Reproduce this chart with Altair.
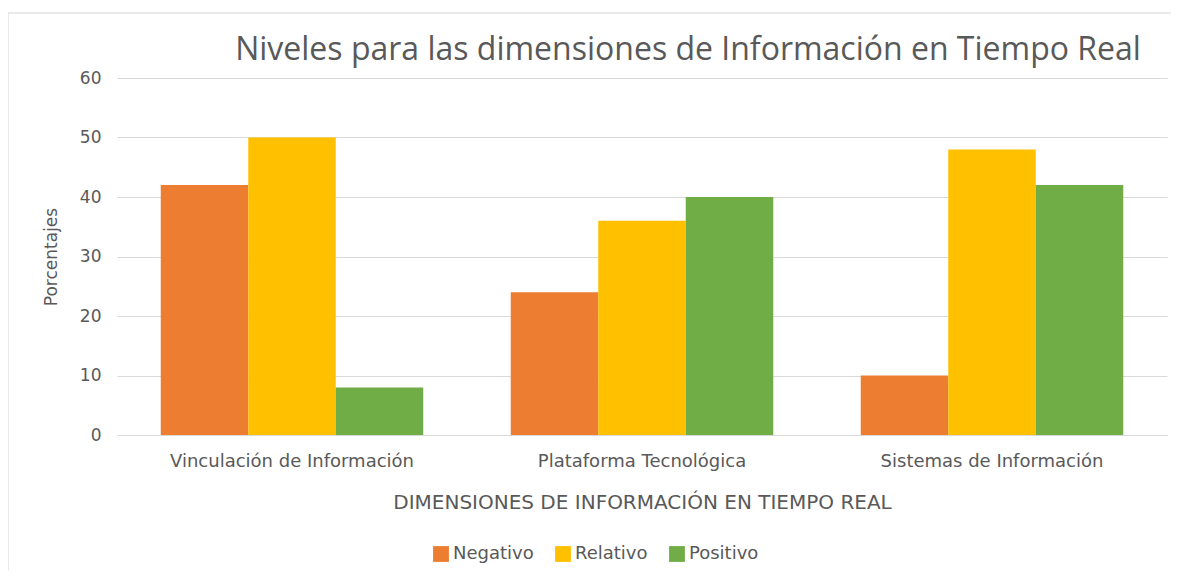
import altair as alt
import pandas as pd

categories = ["Vinculación de Información", "Plataforma Tecnológica", "Sistemas de Información"]
series = ["Negativo", "Relativo", "Positivo"]
negativo = [42, 24, 10]
relativo = [50, 36, 48]
positivo = [8, 40, 42]
colors = ["#ED7D31", "#FFC000", "#70AD47"]
title_text = "Niveles para las dimensiones de Información en Tiempo Real"

rows = []
for i, c in enumerate(categories):
    for s, vals in zip(series, [negativo, relativo, positivo]):
        rows.append({"cat": c, "serie": s, "val": vals[i]})
df = pd.DataFrame(rows)

FONT = "Open Sans"
LFONT = "DejaVu Sans"
GREY = "#595959"

bars = alt.Chart(df).mark_bar().encode(
    x=alt.X("cat:N", sort=categories,
            title="DIMENSIONES DE INFORMACIÓN EN TIEMPO REAL",
            scale=alt.Scale(paddingInner=0.25, paddingOuter=0.125),
            axis=alt.Axis(labelAngle=0, ticks=False, domain=True, domainColor="#D9D9D9",
                          labelFontSize=18, labelColor=GREY, labelFont=LFONT, labelPadding=17,
                          labelLimit=0,
                          titleFontSize=20, titleColor=GREY, titleFont=LFONT, titleFontWeight="normal",
                          titlePadding=22)),
    xOffset=alt.XOffset("serie:N", sort=series),
    y=alt.Y("val:Q", title="Porcentajes",
            scale=alt.Scale(domain=[0, 60]),
            axis=alt.Axis(values=[0, 10, 20, 30, 40, 50, 60], ticks=False, domain=False,
                          gridColor="#D9D9D9", labelFontSize=17, labelColor=GREY, labelFont=LFONT,
                          labelPadding=16, titleFontSize=17, titleColor=GREY, titleFont=LFONT,
                          titleFontWeight="normal", titlePadding=19)),
    color=alt.Color("serie:N", sort=series, title=None,
                    scale=alt.Scale(domain=series, range=colors),
                    legend=alt.Legend(orient="none", legendX=315, legendY=467,
                                      direction="horizontal", symbolType="square",
                                      symbolSize=250, symbolStrokeWidth=0, labelFontSize=18,
                                      labelColor=GREY, labelFont=LFONT, columnPadding=20,
                                      labelOffset=3)),
)

frame = pd.DataFrame({"t": [title_text]})
top_border = alt.Chart(frame).mark_rule(color="#E3E3E3", strokeWidth=1.5).encode(
    x=alt.value(-109), x2=alt.value(1075), y=alt.value(-65)
)
left_border = alt.Chart(frame).mark_rule(color="#E3E3E3", strokeWidth=1.5).encode(
    x=alt.value(-109), y=alt.value(-65), y2=alt.value(510)
)
title = alt.Chart(frame).mark_text(
    font=FONT, fontSize=32, color=GREY, align="center", baseline="middle"
).encode(text="t:N", x=alt.value(571), y=alt.value(-28))

chart = alt.layer(bars, top_border, left_border, title).properties(
    width=1050, height=357,
    padding={"left": 109, "top": 70, "right": 4, "bottom": 136},
    autosize=alt.AutoSizeParams(type="none"),
).configure_view(stroke=None)

chart.save("out.html", embed_options={"renderer": "svg", "actions": False})
